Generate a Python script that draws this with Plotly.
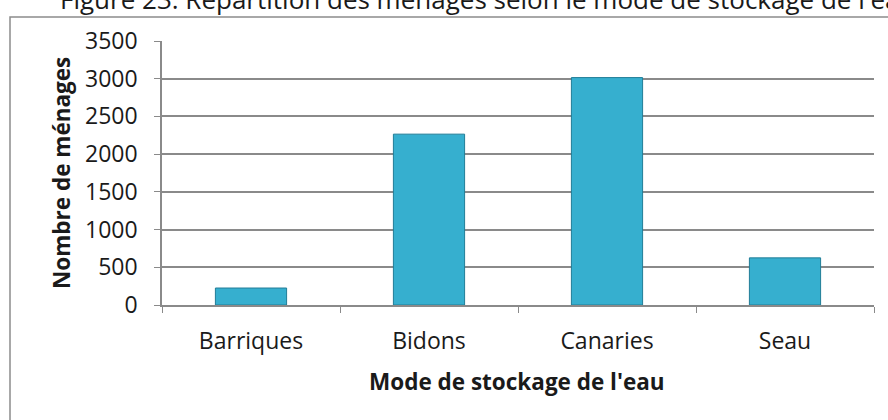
import plotly.graph_objects as go

categories = ["Barriques", "Bidons", "Canaries", "Seau"]
menages = [225, 2265, 3015, 625]
y_ticks = [0, 500, 1000, 1500, 2000, 2500, 3000, 3500]

title_text = "Figure 23: Répartition des ménages selon le mode de stockage de l'eau"
x_title = "Mode de stockage de l'eau"
y_title = "Nombre de ménages"

W, H = 888, 420
L, R, T, B = 162, 14, 41, 115
pw, ph = W - L - R, H - T - B

def px_x(x):
    return (x - L) / pw

def px_y(y):
    return (H - B - y) / ph

FONT = "Open Sans"
GRID = "#8a8a8a"
TXT = "#1a1a1a"

fig = go.Figure()
fig.add_trace(go.Bar(
    x=categories, y=menages,
    width=0.4,
    marker=dict(color="#36afcf", line=dict(color="#217d97", width=1)),
    hoverinfo="x+y",
))

fig.update_layout(
    width=W, height=H,
    margin=dict(l=L, r=R, t=T, b=B),
    paper_bgcolor="white", plot_bgcolor="white",
    showlegend=False,
    font=dict(family=FONT, size=23, color=TXT),
    xaxis=dict(
        type="category",
        showline=True, linecolor=GRID, linewidth=1.5,
        ticks="outside", tickson="boundaries", ticklen=6, tickcolor=GRID, tickwidth=1,
        showgrid=False, zeroline=False,
        tickfont=dict(family=FONT, size=23, color=TXT),
        ticklabelstandoff=15,
        automargin=False,
    ),
    yaxis=dict(
        range=[0, 3500], tickvals=y_ticks,
        showline=True, linecolor=GRID, linewidth=1.5,
        ticks="outside", ticklen=6, tickcolor=GRID, tickwidth=1,
        showgrid=True, gridcolor=GRID, gridwidth=1.5,
        zeroline=False,
        tickfont=dict(family=FONT, size=23, color=TXT),
        ticklabelstandoff=12,
        automargin=False,
    ),
    shapes=[dict(
        type="rect", xref="paper", yref="paper",
        x0=px_x(10), x1=px_x(920), y0=px_y(440), y1=px_y(17),
        line=dict(color="#8c8c8c", width=1.5), fillcolor="rgba(0,0,0,0)",
        layer="below",
    )],
    annotations=[
        dict(text=title_text, xref="paper", yref="paper",
             x=px_x(58), y=px_y(19), xanchor="left", yanchor="bottom",
             showarrow=False, font=dict(family=FONT, size=26, color=TXT)),
        dict(text="<b>" + x_title + "</b>", xref="paper", yref="paper",
             x=px_x(517), y=px_y(381), xanchor="center", yanchor="middle",
             showarrow=False, font=dict(family=FONT, size=22.5, color=TXT)),
        dict(text="<b>" + y_title + "</b>", xref="paper", yref="paper",
             x=px_x(61), y=0.5, xanchor="center", yanchor="middle", textangle=-90,
             showarrow=False, font=dict(family=FONT, size=22.5, color=TXT)),
    ],
)

fig.write_html("out.html", config={"displayModeBar": False},
               post_script="document.body.style.margin='0';")
